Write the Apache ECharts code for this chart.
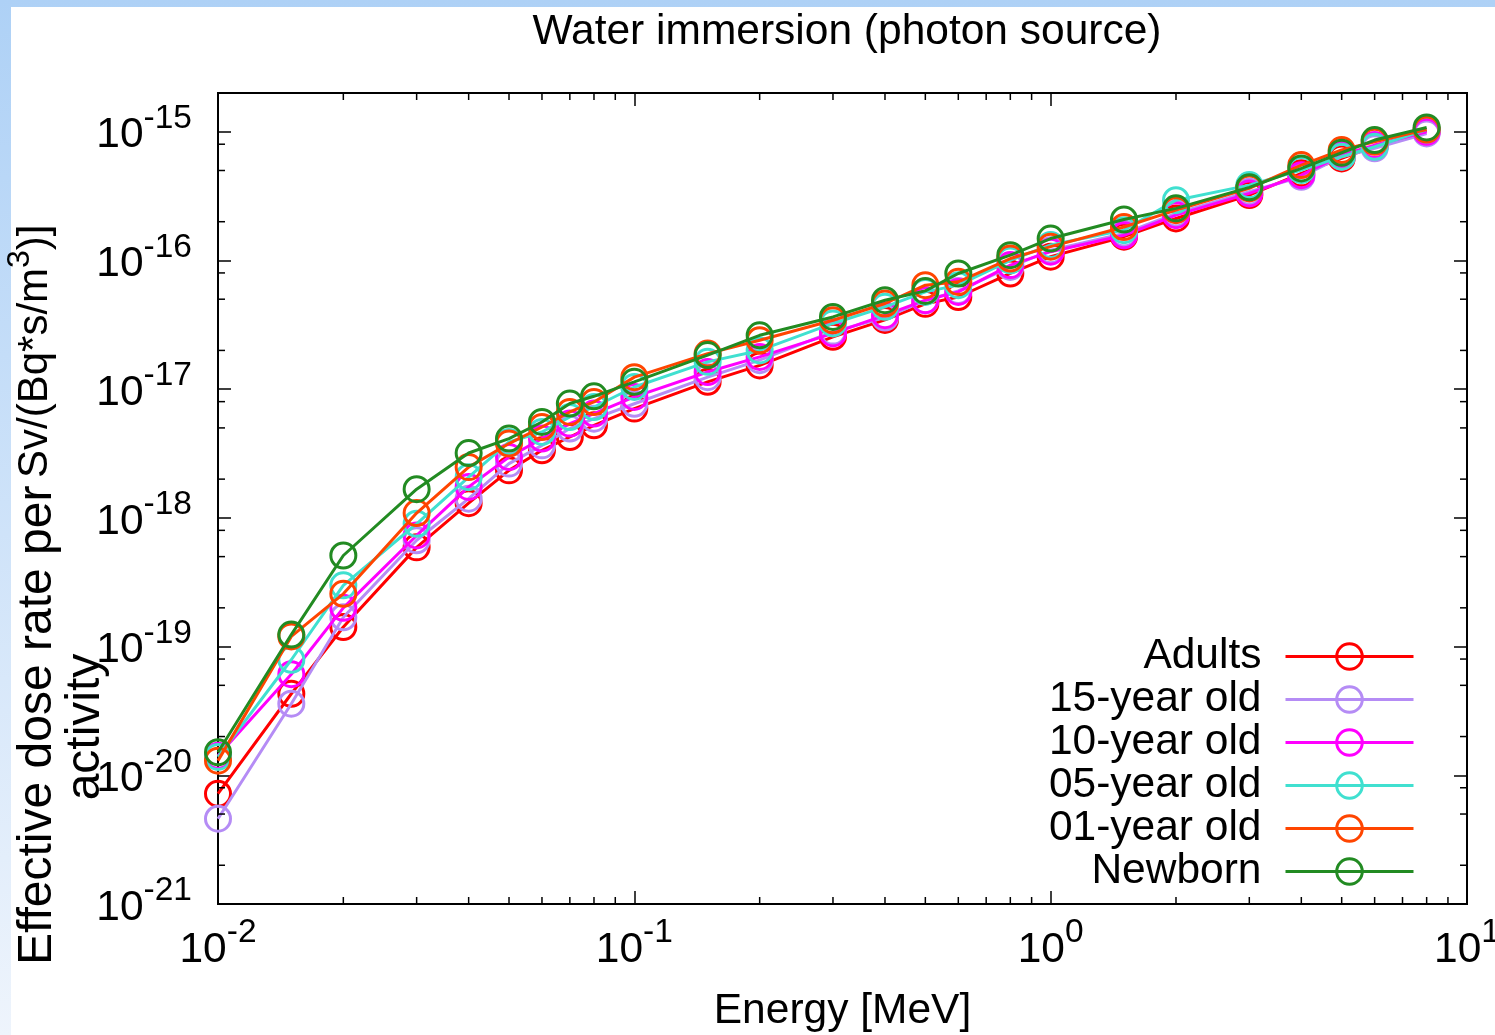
<!DOCTYPE html>
<html>
<head>
<meta charset="utf-8">
<title>Water immersion (photon source)</title>
<script src="https://cdn.jsdelivr.net/npm/echarts@6/dist/echarts.min.js"></script>
<style>
  html, body { margin: 0; padding: 0; background: #fff; }
  #chart { width: 1495px; height: 1035px; }
</style>
</head>
<body>
<div id="chart"></div>
<script>
// Photon energies [MeV]
const energy = [0.01, 0.015, 0.02, 0.03, 0.04, 0.05, 0.06, 0.07, 0.08, 0.1,
  0.15, 0.2, 0.3, 0.4, 0.5, 0.6, 0.8, 1, 1.5, 2, 3, 4, 5, 6, 8];

// Effective dose rate per activity concentration [Sv/(Bq*s/m^3)]
const adults = [7.2e-21, 4.3e-20, 1.42e-19, 5.9e-19, 1.3e-18, 2.34e-18, 3.35e-18, 4.25e-18, 5.24e-18, 7.06e-18,
  1.14e-17, 1.53e-17, 2.55e-17, 3.45e-17, 4.6e-17, 5.2e-17, 7.92e-17, 1.07e-16, 1.53e-16, 2.12e-16,
  3.22e-16, 4.75e-16, 6.21e-16, 7.7e-16, 1.02e-15];
const age15 = [4.6e-21, 3.6e-20, 1.69e-19, 6.7e-19, 1.41e-18, 2.64e-18, 3.66e-18, 4.94e-18, 5.9e-18, 7.7e-18,
  1.24e-17, 1.68e-17, 2.8e-17, 3.6e-17, 4.9e-17, 5.8e-17, 8.9e-17, 1.2e-16, 1.62e-16, 2.32e-16,
  3.42e-16, 4.47e-16, 6.4e-16, 7.43e-16, 9.7e-16];
const age10 = [1.42e-20, 6.1e-20, 2.0e-19, 7.3e-19, 1.74e-18, 2.97e-18, 4.13e-18, 5.4e-18, 6.46e-18, 8.7e-18,
  1.36e-17, 1.78e-17, 2.71e-17, 3.76e-17, 4.91e-17, 5.7e-17, 9.2e-17, 1.17e-16, 1.57e-16, 2.25e-16,
  3.32e-16, 4.6e-16, 6.59e-16, 7.88e-16, 1.0e-15];
const age05 = [1.39e-20, 7.9e-20, 2.99e-19, 9.0e-19, 2.07e-18, 3.89e-18, 4.65e-18, 6.08e-18, 7.27e-18, 1.04e-17,
  1.63e-17, 2.0e-17, 3.24e-17, 4.36e-17, 5.7e-17, 6.43e-17, 1.0e-16, 1.32e-16, 1.72e-16, 2.94e-16,
  3.85e-16, 5.04e-16, 6.4e-16, 7.64e-16, 1.04e-15];
const age01 = [1.30e-20, 1.2e-19, 2.57e-19, 1.09e-18, 2.48e-18, 3.78e-18, 5.08e-18, 6.65e-18, 7.95e-18, 1.24e-17,
  1.89e-17, 2.4e-17, 3.43e-17, 4.63e-17, 6.43e-17, 6.82e-17, 1.035e-16, 1.28e-16, 1.82e-16, 2.46e-16,
  3.63e-16, 5.51e-16, 7.21e-16, 8.36e-16, 1.04e-15];
const newborn = [1.51e-20, 1.24e-19, 5.1e-19, 1.67e-18, 3.19e-18, 4.13e-18, 5.56e-18, 7.73e-18, 8.8e-18, 1.14e-17,
  1.84e-17, 2.62e-17, 3.64e-17, 4.91e-17, 5.8e-17, 7.92e-17, 1.1e-16, 1.48e-16, 2.08e-16, 2.54e-16,
  3.7e-16, 5.19e-16, 6.87e-16, 8.62e-16, 1.08e-15];

const seriesNames = ['Adults', '15-year old', '10-year old', '05-year old', '01-year old', 'Newborn'];
const seriesValues = [adults, age15, age10, age05, age01, newborn];
const seriesColors = ['#ff0000', '#b58cf5', '#ff00ff', '#40e0d0', '#ff4500', '#228b22'];

// Axis ranges, decade tick exponents and minor tick multipliers
const xRange = [0.01, 10];
const yRange = [1e-21, 2e-15];
const xTickExponents = [-2, -1, 0, 1];
const yTickExponents = [-21, -20, -19, -18, -17, -16, -15];
const xMinorSteps = [2, 3, 4, 5, 6, 7, 8, 9];
const yMinorSteps = [2, 5, 8];

const FONT = '"Liberation Sans", Arial, Helvetica, sans-serif';
const FS = 42.5;     // body text size
const FS_EXP = 33.5; // exponent size

const chart = echarts.init(document.getElementById('chart'), null, { renderer: 'canvas' });

const logAxisBase = {
  type: 'log',
  logBase: 10,
  axisLine: { show: true, onZero: false, lineStyle: { color: '#000', width: 2 } },
  axisTick: { show: true, inside: true, length: 13, lineStyle: { color: '#000', width: 1.5 } },
  axisLabel: { show: false },
  splitLine: { show: false },
  minorTick: { show: false },
  minorSplitLine: { show: false }
};

const series = seriesNames.map((name, i) => ({
  name: name,
  type: 'line',
  data: energy.map((e, j) => [e, seriesValues[i][j]]),
  symbol: 'circle',
  symbolSize: 25,
  showSymbol: true,
  itemStyle: { color: 'rgba(0,0,0,0)', borderColor: seriesColors[i], borderWidth: 3 },
  lineStyle: { color: seriesColors[i], width: 3 },
  emphasis: { disabled: true },
  animation: false,
  z: 2 + i
}));

chart.setOption({
  animation: false,
  backgroundColor: '#fff',
  title: {
    text: 'Water immersion (photon source)',
    left: 842,
    textAlign: 'center',
    top: 6,
    textStyle: { fontFamily: FONT, fontSize: FS, fontWeight: 'normal', color: '#000' }
  },
  grid: {
    left: 218, top: 93, right: 28, bottom: 131,
    containLabel: false,
    outerBoundsMode: 'none',
    show: true, borderColor: '#000', borderWidth: 2, backgroundColor: 'rgba(0,0,0,0)'
  },
  legend: {
    orient: 'vertical',
    right: 80,
    top: 635,
    align: 'right',
    padding: 0,
    itemWidth: 128,
    itemHeight: 32,
    itemGap: 0,
    data: seriesNames,
    itemStyle: { borderWidth: 3 },
    lineStyle: { width: 3 },
    textStyle: { fontFamily: FONT, fontSize: FS, lineHeight: 40, color: '#000', padding: [0, 19, 0, 0] },
    selectedMode: false
  },
  xAxis: [
    Object.assign({}, logAxisBase, {
      position: 'bottom',
      min: xRange[0], max: xRange[1],
      splitNumber: 3,
      name: 'Energy [MeV]',
      nameLocation: 'middle',
      nameGap: 86,
      nameTextStyle: { fontFamily: FONT, fontSize: FS, color: '#000' }
    }),
    Object.assign({}, logAxisBase, { position: 'top', min: xRange[0], max: xRange[1], splitNumber: 3 })
  ],
  yAxis: [
    Object.assign({}, logAxisBase, { position: 'left', min: yRange[0], max: yRange[1], splitNumber: 7 }),
    Object.assign({}, logAxisBase, { position: 'right', min: yRange[0], max: yRange[1], splitNumber: 7 })
  ],
  series: series
});

const measureCtx = document.createElement('canvas').getContext('2d');
function textWidth(str, size) {
  measureCtx.font = size + 'px ' + FONT;
  return measureCtx.measureText(str).width;
}

// Power-of-ten tick labels: "10" plus a raised exponent, placed on the axis scale
function powerLabel(x0, yBase, exp) {
  return [
    { type: 'text', silent: true, z: 20, x: x0, y: yBase,
      style: { text: '10', font: FS + 'px ' + FONT, fill: '#000', align: 'right', verticalAlign: 'middle' } },
    { type: 'text', silent: true, z: 20, x: x0, y: yBase - 17,
      style: { text: String(exp), font: FS_EXP + 'px ' + FONT, fill: '#000', align: 'left', verticalAlign: 'middle' } }
  ];
}

function tickLabelGraphics() {
  const els = [];
  const xLeft = chart.convertToPixel({ xAxisIndex: 0 }, xRange[0]);
  const yBottom = chart.convertToPixel({ yAxisIndex: 0 }, yRange[0]);
  const w10 = textWidth('10', FS);
  yTickExponents.forEach(e => {
    const py = chart.convertToPixel({ yAxisIndex: 0 }, Math.pow(10, e));
    const wExp = textWidth(String(e), FS_EXP);
    const right = xLeft - 26;
    els.push(...powerLabel(right - wExp, py + 4, e));
  });
  xTickExponents.forEach(e => {
    const px = chart.convertToPixel({ xAxisIndex: 0 }, Math.pow(10, e));
    const wExp = textWidth(String(e), FS_EXP);
    const left = px - (w10 + wExp) / 2;
    els.push(...powerLabel(left + w10, yBottom + 46, e));
  });
  return els;
}

// Minor ticks at the intermediate multiples of each decade, on all four sides
function minorTickGraphics() {
  const els = [];
  const xLeft = chart.convertToPixel({ xAxisIndex: 0 }, xRange[0]);
  const xRight = chart.convertToPixel({ xAxisIndex: 0 }, xRange[1]);
  const yBottom = chart.convertToPixel({ yAxisIndex: 0 }, yRange[0]);
  const yTop = chart.convertToPixel({ yAxisIndex: 0 }, yRange[1]);
  const len = 7;
  const style = { stroke: '#000', lineWidth: 1.5 };
  for (let d = Math.floor(Math.log10(xRange[0])); d < Math.log10(xRange[1]); d++) {
    xMinorSteps.forEach(m => {
      const v = m * Math.pow(10, d);
      if (v <= xRange[0] || v >= xRange[1]) return;
      const px = chart.convertToPixel({ xAxisIndex: 0 }, v);
      els.push({ type: 'line', silent: true, z: 10, shape: { x1: px, y1: yBottom, x2: px, y2: yBottom - len }, style: style });
      els.push({ type: 'line', silent: true, z: 10, shape: { x1: px, y1: yTop, x2: px, y2: yTop + len }, style: style });
    });
  }
  for (let d = Math.floor(Math.log10(yRange[0])); d < Math.log10(yRange[1]); d++) {
    yMinorSteps.forEach(m => {
      const v = m * Math.pow(10, d);
      if (v <= yRange[0] || v >= yRange[1]) return;
      const py = chart.convertToPixel({ yAxisIndex: 0 }, v);
      els.push({ type: 'line', silent: true, z: 10, shape: { x1: xLeft, y1: py, x2: xLeft + len, y2: py }, style: style });
      els.push({ type: 'line', silent: true, z: 10, shape: { x1: xRight, y1: py, x2: xRight - len, y2: py }, style: style });
    });
  }
  return els;
}

// Page frame and the rotated y-axis title
const frame = [
  {
    type: 'rect', silent: true, z: -10,
    shape: { x: 0, y: 0, width: 1495, height: 1035 },
    style: { fill: new echarts.graphic.LinearGradient(0, 0, 0, 1, [
      { offset: 0, color: '#aed1f6' }, { offset: 1, color: '#eef4fc' }]) }
  },
  {
    type: 'rect', silent: true, z: -9,
    shape: { x: 11, y: 7, width: 1484, height: 1028 },
    style: { fill: '#ffffff' }
  }
];

const yTitle = [
  {
    type: 'text', silent: true, z: 20,
    x: 62, y: 965, rotation: Math.PI / 2,
    style: { text: 'Effective dose rate per', font: '48px ' + FONT, fill: '#000', align: 'left', verticalAlign: 'bottom' }
  },
  {
    type: 'text', silent: true, z: 20,
    x: 110, y: 727, rotation: Math.PI / 2,
    style: { text: 'activity', font: '48px ' + FONT, fill: '#000', align: 'center', verticalAlign: 'bottom' }
  },
  {
    type: 'text', silent: true, z: 20,
    x: 66, y: 478, rotation: Math.PI / 2,
    style: {
      text: '{t|Sv/(Bq*s/m}{s|3}{t|)]}',
      align: 'left', verticalAlign: 'bottom',
      rich: {
        t: { font: '42px ' + FONT, fill: '#000', lineHeight: 62 },
        s: { font: '32px ' + FONT, fill: '#000', lineHeight: 30, verticalAlign: 'top' }
      }
    }
  }
];

chart.setOption({ graphic: frame.concat(minorTickGraphics(), tickLabelGraphics(), yTitle) });
</script>
</body>
</html>
